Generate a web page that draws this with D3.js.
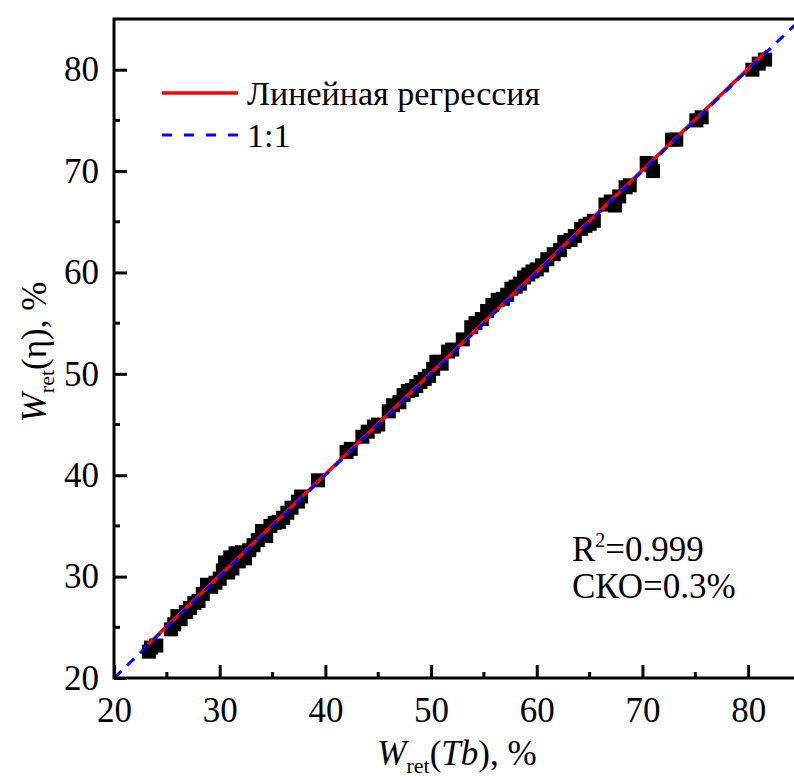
<!DOCTYPE html>
<html>
<head>
<meta charset="utf-8">
<script src="https://cdn.jsdelivr.net/npm/d3@7"></script>
<style>
  body { margin: 0; background: #fff; }
  svg text { font-family: "Liberation Serif", Tinos, "Times New Roman", "DejaVu Serif", serif !important; fill: #000; }
</style>
</head>
<body>
<script>
// data: Wret(Tb) vs Wret(eta), %
const xVals = [23.3, 23.5, 24.0, 25.4, 25.7, 26.0, 26.3, 26.8, 27.2, 27.6, 28.0, 28.4, 28.8, 29.2, 29.6,
  30.0, 30.3, 30.5, 30.8, 31.0, 31.2, 31.5, 31.8, 32.1, 32.4, 32.8, 33.2, 33.6, 34.0, 34.4, 34.8,
  35.2, 35.6, 36.0, 36.4, 36.8, 37.4, 37.7, 39.3, 42.0, 42.4, 43.5, 44.0, 44.6, 45.0, 46.0, 46.4,
  47.0, 47.4, 47.8, 48.2, 48.6, 49.0, 49.4, 49.8, 50.2, 50.5, 51.0, 51.6, 52.0, 53.0, 53.8, 54.2,
  54.8, 55.3, 55.8, 56.3, 56.8, 57.2, 57.6, 58.0, 58.4, 58.8, 59.2, 59.6, 60.0, 60.5, 61.0, 61.6,
  62.2, 62.6, 63.2, 63.6, 64.2, 64.6, 65.0, 65.4, 66.5, 67.0, 67.4, 67.8, 68.4, 68.8, 70.4, 70.8,
  71.0, 72.8, 73.2, 75.1, 75.6, 80.4, 81.0, 81.6];
const yVals = [22.6, 23.0, 23.2, 24.8, 25.3, 26.1, 25.8, 26.5, 26.9, 27.4, 27.6, 28.3, 29.2, 29.0, 29.4,
  29.8, 30.6, 31.4, 30.4, 31.9, 30.8, 32.3, 31.5, 32.4, 31.8, 32.6, 33.1, 33.6, 34.5, 34.0, 35.0,
  35.3, 35.4, 35.8, 36.3, 36.8, 37.4, 37.9, 39.5, 42.3, 42.6, 43.8, 44.3, 44.8, 45.0, 46.3, 46.9,
  47.2, 47.9, 48.3, 48.4, 48.8, 49.2, 49.5, 49.8, 50.5, 51.2, 51.0, 52.2, 52.4, 53.4, 54.6, 55.0,
  55.4, 56.2, 56.8, 57.3, 57.4, 57.8, 58.4, 58.6, 58.9, 59.5, 59.8, 60.1, 60.3, 60.7, 61.3, 61.8,
  62.2, 63.0, 63.2, 63.6, 64.3, 64.6, 64.8, 65.1, 66.7, 67.0, 66.6, 67.5, 68.4, 68.6, 70.8, 70.6,
  70.0, 73.1, 73.1, 75.0, 75.3, 80.0, 80.6, 81.0];
// linear regression y = a*x + b, drawn over the data range
const regSlope = 1.0;
const regIntercept = 0.1;
const regRange = [23.2, 81.8];
const oneToOne = [20, 85];
const xTicks = [20, 30, 40, 50, 60, 70, 80];
const yTicks = [20, 30, 40, 50, 60, 70, 80];
const legendLabels = ['Линейная регрессия', '1:1'];

const width = 794, height = 779;
const margin = {top: 19, left: 114, right: -7, bottom: 101};
const fs = 35;
const serif = '"Liberation Serif", Tinos, "Times New Roman", "DejaVu Serif", serif';

const svg = d3.select('body').append('svg')
  .attr('width', width).attr('height', height)
  .attr('font-family', serif);

const x = d3.scaleLinear().domain([20, 85]).range([margin.left, width - margin.right]);
const y = d3.scaleLinear().domain([20, 85]).range([height - margin.bottom, margin.top]);

svg.append('clipPath').attr('id', 'plot')
  .append('rect')
  .attr('x', x(20)).attr('y', y(85))
  .attr('width', x(85) - x(20)).attr('height', y(20) - y(85));

const data = xVals.map((v, i) => ({x: v, y: yVals[i]}));

// points
const sq = 14;
svg.append('g').attr('clip-path', 'url(#plot)')
  .selectAll('rect')
  .data(data)
  .enter()
  .append('rect')
  .attr('x', d => x(d.x) - sq / 2)
  .attr('y', d => y(d.y) - sq / 2)
  .attr('width', sq)
  .attr('height', sq)
  .attr('fill', '#000');

// regression line
svg.append('line')
  .attr('x1', x(regRange[0])).attr('y1', y(regSlope * regRange[0] + regIntercept))
  .attr('x2', x(regRange[1])).attr('y2', y(regSlope * regRange[1] + regIntercept))
  .attr('stroke', '#ff0000').attr('stroke-width', 3.5);

// 1:1 line
svg.append('line')
  .attr('clip-path', 'url(#plot)')
  .attr('x1', x(oneToOne[0])).attr('y1', y(oneToOne[0]))
  .attr('x2', x(oneToOne[1])).attr('y2', y(oneToOne[1]))
  .attr('stroke', '#0000ff').attr('stroke-width', 3)
  .attr('stroke-dasharray', '10,8');

// axes
const minor = d3.range(25, 85, 10);
const xAxis = d3.axisBottom(x).tickValues(xTicks).tickSize(-13).tickPadding(19).tickFormat(d3.format('d'));
const yAxis = d3.axisLeft(y).tickValues(yTicks).tickSize(-13).tickPadding(15).tickFormat(d3.format('d'));

const xg = svg.append('g').attr('transform', `translate(0,${y(20)})`).call(xAxis);
const yg = svg.append('g').attr('transform', `translate(${x(20)},0)`).call(yAxis);
[xg, yg].forEach(g => {
  g.attr('font-family', serif).attr('font-size', fs);
  g.select('.domain').remove();
  g.selectAll('.tick line').attr('stroke', '#000').attr('stroke-width', 3);
  g.selectAll('.tick text').attr('fill', '#000');
});

svg.append('g').selectAll('line').data(minor).enter().append('line')
  .attr('x1', d => x(d)).attr('x2', d => x(d))
  .attr('y1', y(20)).attr('y2', y(20) - 6)
  .attr('stroke', '#000').attr('stroke-width', 3);
svg.append('g').selectAll('line').data(minor).enter().append('line')
  .attr('y1', d => y(d)).attr('y2', d => y(d))
  .attr('x1', x(20)).attr('x2', x(20) + 6)
  .attr('stroke', '#000').attr('stroke-width', 3);

// frame
svg.append('rect')
  .attr('x', x(20)).attr('y', y(85))
  .attr('width', x(85) - x(20)).attr('height', y(20) - y(85))
  .attr('fill', 'none').attr('stroke', '#000').attr('stroke-width', 3);

// axis titles
const xt = svg.append('text')
  .attr('x', 457).attr('y', 765)
  .attr('text-anchor', 'middle')
  .attr('font-size', fs + 'px');
xt.append('tspan').attr('font-style', 'italic').text('W');
xt.append('tspan').attr('font-size', '22px').attr('dy', 8).text('ret');
xt.append('tspan').attr('dy', -8).text('(');
xt.append('tspan').attr('font-style', 'italic').text('Tb');
xt.append('tspan').text('), %');

const yt = svg.append('text')
  .attr('transform', 'translate(46,352) rotate(-90)')
  .attr('text-anchor', 'middle')
  .attr('font-size', fs + 'px');
yt.append('tspan').attr('font-style', 'italic').text('W');
yt.append('tspan').attr('font-size', '22px').attr('dy', 8).text('ret');
yt.append('tspan').attr('dy', -8).text('(η), %');

// legend
svg.append('line').attr('x1', 162).attr('x2', 238).attr('y1', 93).attr('y2', 93)
  .attr('stroke', '#ff0000').attr('stroke-width', 3.5);
svg.append('text').attr('x', 247).attr('y', 105).attr('font-size', '34px').text(legendLabels[0]);
svg.append('line').attr('x1', 162).attr('x2', 238).attr('y1', 135).attr('y2', 135)
  .attr('stroke', '#0000ff').attr('stroke-width', 3).attr('stroke-dasharray', '10,12');
svg.append('text').attr('x', 247).attr('y', 147).attr('font-size', '34px').text(legendLabels[1]);

// stats
const r2 = svg.append('text').attr('x', 572).attr('y', 561).attr('font-size', fs + 'px');
r2.append('tspan').text('R');
r2.append('tspan').attr('font-size', '20px').attr('dy', -14).text('2');
r2.append('tspan').attr('dy', 14).text('=0.999');
svg.append('text').attr('x', 572).attr('y', 598).attr('font-size', fs + 'px').text('СКО=0.3%');
</script>
</body>
</html>
